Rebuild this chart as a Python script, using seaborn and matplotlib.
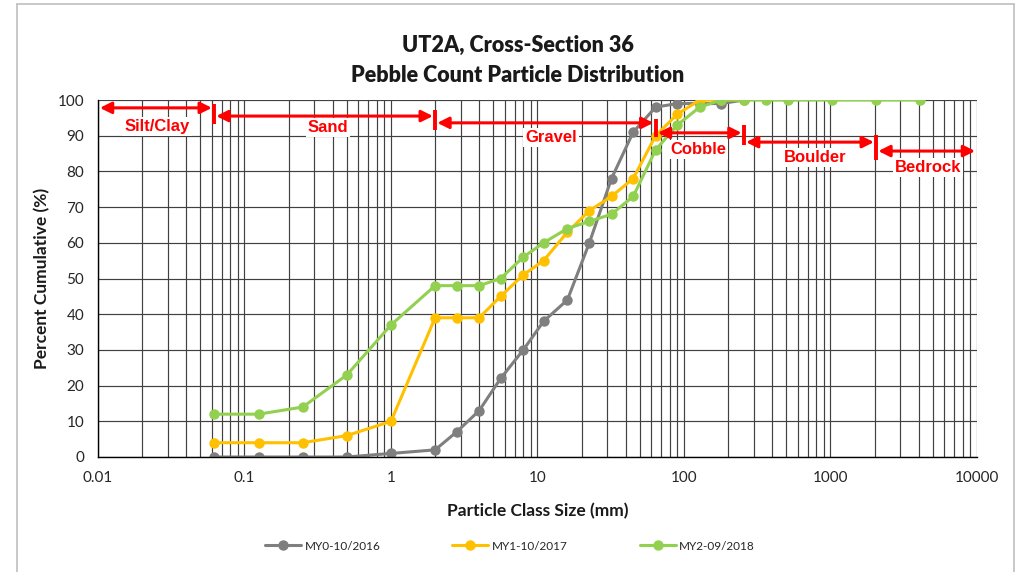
import numpy as np
import pandas as pd
import matplotlib
matplotlib.use("Agg")
import matplotlib.pyplot as plt
from matplotlib.lines import Line2D
from matplotlib.ticker import LogLocator, FixedLocator, NullFormatter
import seaborn as sns

# Particle class sizes (mm) and cumulative percent finer for each monitoring year
sizes = [0.062, 0.125, 0.25, 0.5, 1, 2, 2.8, 4, 5.6, 8, 11, 16, 22.6, 32, 45,
         64, 90, 128, 180, 256, 362, 512, 1024, 2048, 4096]
my0_sizes = sizes[:20]
my0_pct = [0, 0, 0, 0, 1, 2, 7, 13, 22, 30, 38, 44, 60, 78, 91, 98, 99, 99, 99, 100]
my1_sizes = sizes[:20]
my1_pct = [4, 4, 4, 6, 10, 39, 39, 39, 45, 51, 55, 63, 69, 73, 78, 90, 96, 100, 100, 100]
my2_sizes = sizes
my2_pct = [12, 12, 14, 23, 37, 48, 48, 48, 50, 56, 60, 64, 66, 68, 73, 86, 93, 98,
           100, 100, 100, 100, 100, 100, 100]
series_names = ["MY0-10/2016", "MY1-10/2017", "MY2-09/2018"]
series_colors = ["#7F7F7F", "#FFC000", "#92D050"]

# Sediment class boundaries (mm) and their labels
class_bounds = [0.01, 0.062, 2, 64, 256, 2048, 10000]
class_names = ["Silt/Clay", "Sand", "Gravel", "Cobble", "Boulder", "Bedrock"]

x_ticks = [0.01, 0.1, 1, 10, 100, 1000, 10000]
x_tick_labels = ["0.01", "0.1", "1", "10", "100", "1000", "10000"]
y_ticks = list(range(0, 101, 10))

df = pd.concat([
    pd.DataFrame({"size": s, "pct": p, "series": n})
    for s, p, n in zip([my0_sizes, my1_sizes, my2_sizes],
                       [my0_pct, my1_pct, my2_pct], series_names)
], ignore_index=True)

sns.set_style("white")
plt.rcParams["font.family"] = ["Lato", "DejaVu Sans"]

fig = plt.figure(figsize=(10.19, 5.72), dpi=100)
ax = fig.add_axes([98 / 1019, 1 - 457 / 572, (977 - 98) / 1019, (457 - 100) / 572])

ax.set_xscale("log")
ax.set_xlim(0.01, 10000)
ax.set_ylim(0, 100)

# Grid: decade + intermediate log lines, horizontal every 10 %
ax.xaxis.set_major_locator(FixedLocator(x_ticks))
ax.xaxis.set_minor_locator(LogLocator(base=10, subs=np.arange(2, 10), numticks=20))
ax.xaxis.set_minor_formatter(NullFormatter())
ax.set_xticklabels(x_tick_labels)
ax.set_yticks(y_ticks)
ax.grid(True, which="major", axis="both", color="#404040", lw=0.85)
ax.grid(True, which="minor", axis="x", color="#404040", lw=0.85)
ax.set_axisbelow(True)

sns.lineplot(data=df, x="size", y="pct", hue="series", hue_order=series_names,
             palette=series_colors, marker="o", markersize=7.5, markeredgewidth=0,
             linewidth=2.2, ax=ax, legend=False, sort=False, estimator=None)

for side in ["top", "right"]:
    ax.spines[side].set_visible(False)
for side in ["left", "bottom"]:
    ax.spines[side].set_color("black")
    ax.spines[side].set_linewidth(1.0)
ax.tick_params(axis="both", which="major", direction="out", length=4, width=0.8,
               color="#595959", labelsize=11, labelcolor="#262626", pad=6)
ax.tick_params(axis="x", which="minor", direction="out", length=3, width=0.6,
               color="#595959")

ax.set_xlabel("Particle Class Size (mm)", fontsize=12.5, fontweight="bold",
              color="#1a1a1a", labelpad=13)
ax.set_ylabel("Percent Cumulative (%)", fontsize=12.5, fontweight="bold",
              color="#1a1a1a", labelpad=5)

fig.text(0.508, 0.921, "UT2A, Cross-Section 36", ha="center", va="center",
         fontsize=15.5, fontweight="heavy", color="#1a1a1a")
fig.text(0.508, 0.868, "Pebble Count Particle Distribution", ha="center", va="center",
         fontsize=15.5, fontweight="heavy", color="#1a1a1a")

# Sediment class arrows, boundary bars and labels
red = "#FF0000"
arrow_y = [97.8, 95.5, 93.6, 90.8, 88.2, 85.7]
bar_span = [(93.3, 98.9), (91.6, 97.2), (89.6, 94.7), (87.4, 93.0), (83.2, 90.2)]
label_pos = [(0.0253, 92.7), (0.372, 92.2), (12.4, 89.6), (124.6, 86.0),
             (784, 84.0), (4634, 81.2)]
pad = 1.035
for i, name in enumerate(class_names):
    x0 = class_bounds[i] * (pad if i > 0 else 1.03)
    x1 = class_bounds[i + 1] / (pad if i < len(class_names) - 1 else 1.03)
    ax.annotate("", xy=(x1, arrow_y[i]), xytext=(x0, arrow_y[i]),
                arrowprops=dict(arrowstyle="<|-|>", color=red, lw=2.2,
                                mutation_scale=17, shrinkA=0, shrinkB=0),
                zorder=6)
    lx, ly = label_pos[i]
    ax.text(lx, ly, name, ha="center", va="center", color=red, fontsize=12,
            fontweight="bold", family=["Liberation Sans", "DejaVu Sans"],
            bbox=dict(facecolor="white", edgecolor="none", pad=1.5), zorder=6)
for b, (lo, hi) in zip(class_bounds[1:-1], bar_span):
    ax.plot([b, b], [lo, hi], color=red, lw=2.8, solid_capstyle="butt", zorder=7,
            clip_on=False)

# Legend below the axes
handles = [Line2D([0], [0], color=c, lw=2.2, marker="o", markersize=7.5,
                  markeredgewidth=0) for c in series_colors]
fig.legend(handles, series_names, loc="center",
           bbox_to_anchor=(0.5005, 1 - 546 / 572), bbox_transform=fig.transFigure,
           ncol=3, frameon=False, fontsize=8.5, handlelength=3.05,
           columnspacing=6.1, handletextpad=0.3)

# Light chart border
border = dict(color="#BFBFBF", lw=1.2, transform=fig.transFigure)
fig.add_artist(Line2D([17 / 1019, 1014 / 1019], [1 - 4 / 572] * 2, **border))
fig.add_artist(Line2D([17 / 1019] * 2, [0, 1 - 4 / 572], **border))
fig.add_artist(Line2D([1014 / 1019] * 2, [0, 1 - 4 / 572], **border))

fig.savefig("out.png", dpi=100)
